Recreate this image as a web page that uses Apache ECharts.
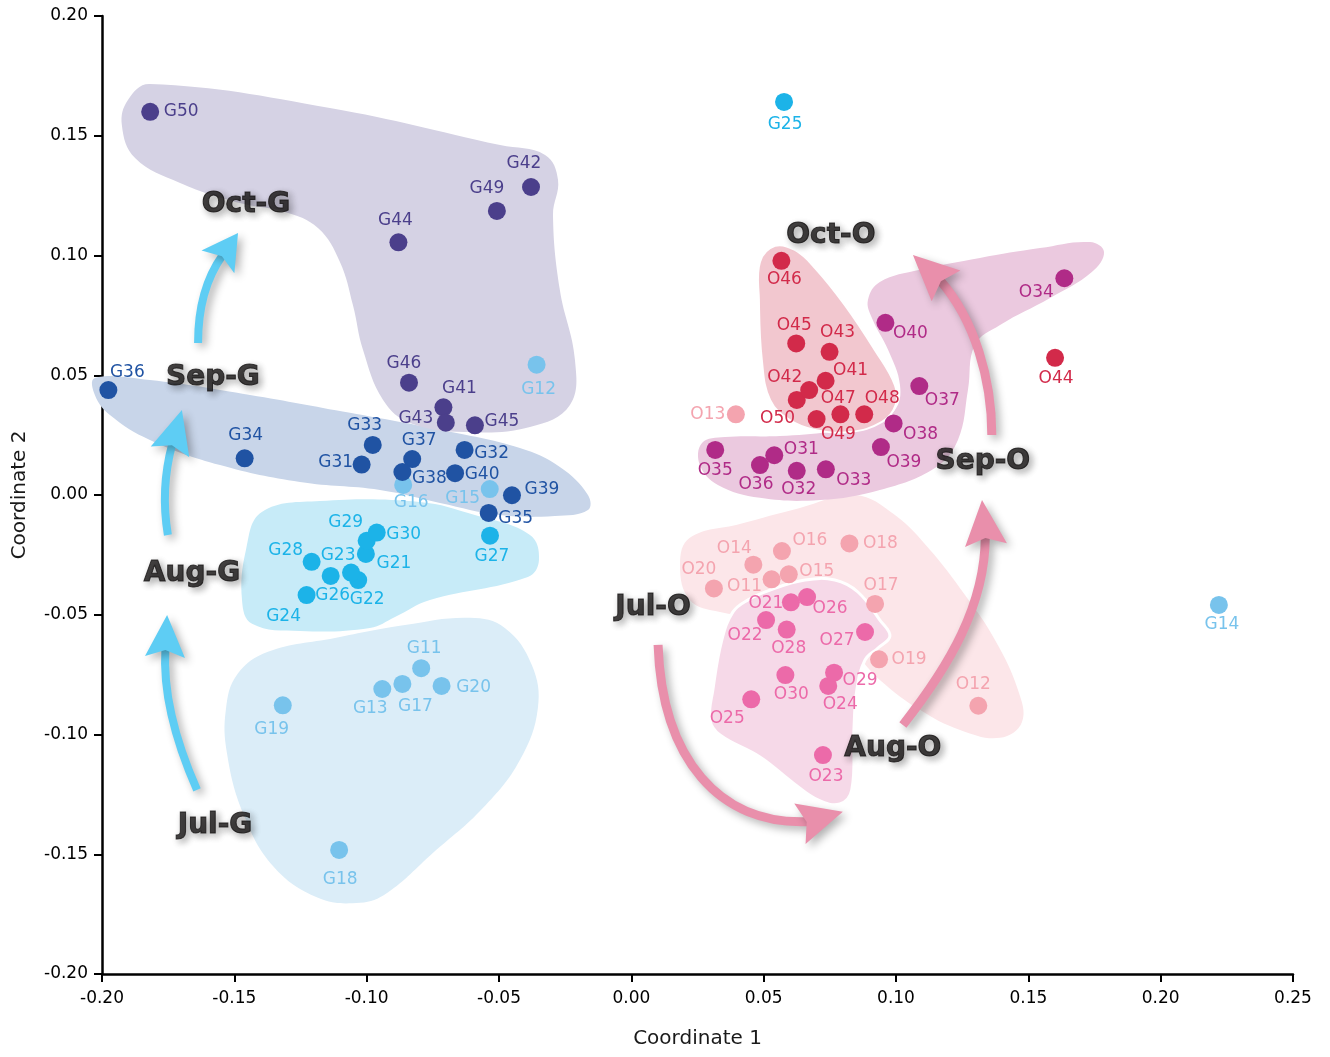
<!DOCTYPE html>
<html>
<head>
<meta charset="utf-8">
<title>PCoA – G and O samples by month</title>
<script src="https://cdn.jsdelivr.net/npm/echarts@6/dist/echarts.min.js"></script>
<style>
  html, body { margin: 0; padding: 0; background: #ffffff; }
  #chart { width: 1330px; height: 1057px; }
</style>
</head>
<body>
<div id="chart"></div>
<script>
// ---- Sample coordinates: [label, coordinate 1, coordinate 2] ----
const julG = [
  ['G11', -0.0794, -0.0723], ['G12', -0.0358, 0.0544], ['G13', -0.0941, -0.0810],
  ['G14', 0.2220, -0.0459], ['G15', -0.0535, 0.0025], ['G16', -0.0862, 0.0042],
  ['G17', -0.0865, -0.0789], ['G18', -0.1104, -0.1482], ['G19', -0.1317, -0.0878],
  ['G20', -0.0717, -0.0797]
];
const augG = [
  ['G21', -0.1003, -0.0246], ['G22', -0.1032, -0.0355], ['G23', -0.1059, -0.0324],
  ['G24', -0.1227, -0.0418], ['G25', 0.0577, 0.1641], ['G26', -0.1136, -0.0338],
  ['G27', -0.0534, -0.0170], ['G28', -0.1208, -0.0279], ['G29', -0.1000, -0.0191],
  ['G30', -0.0962, -0.0157]
];
const sepG = [
  ['G31', -0.1019, 0.0127], ['G32', -0.0630, 0.0188], ['G33', -0.0977, 0.0209],
  ['G34', -0.1461, 0.0153], ['G35', -0.0539, -0.0075], ['G36', -0.1976, 0.0438],
  ['G37', -0.0828, 0.0150], ['G38', -0.0865, 0.0096], ['G39', -0.0451, -0.0001],
  ['G40', -0.0666, 0.0091]
];
const octG = [
  ['G41', -0.0710, 0.0366], ['G42', -0.0379, 0.1286], ['G43', -0.0701, 0.0302],
  ['G44', -0.0880, 0.1055], ['G45', -0.0591, 0.0291], ['G46', -0.0840, 0.0469],
  ['G49', -0.0508, 0.1186], ['G50', -0.1818, 0.1600]
];
const julO = [
  ['O11', 0.0530, -0.0352], ['O12', 0.1311, -0.0880], ['O13', 0.0395, 0.0337],
  ['O14', 0.0461, -0.0291], ['O15', 0.0595, -0.0331], ['O16', 0.0569, -0.0234],
  ['O17', 0.0921, -0.0455], ['O18', 0.0824, -0.0202], ['O19', 0.0936, -0.0686],
  ['O20', 0.0312, -0.0390]
];
const augO = [
  ['O21', 0.0603, -0.0448], ['O22', 0.0509, -0.0522], ['O23', 0.0724, -0.1086],
  ['O24', 0.0744, -0.0797], ['O25', 0.0453, -0.0853], ['O26', 0.0664, -0.0426],
  ['O27', 0.0883, -0.0572], ['O28', 0.0587, -0.0562], ['O29', 0.0766, -0.0742],
  ['O30', 0.0582, -0.0752]
];
const sepO = [
  ['O31', 0.0540, 0.0166], ['O32', 0.0625, 0.0101], ['O33', 0.0735, 0.0107],
  ['O34', 0.1636, 0.0905], ['O35', 0.0317, 0.0188], ['O36', 0.0486, 0.0125],
  ['O37', 0.1088, 0.0455], ['O38', 0.0991, 0.0299], ['O39', 0.0943, 0.0200],
  ['O40', 0.0960, 0.0719]
];
const octO = [
  ['O41', 0.0734, 0.0477], ['O42', 0.0625, 0.0397], ['O43', 0.0749, 0.0598],
  ['O44', 0.1601, 0.0573], ['O45', 0.0623, 0.0633], ['O46', 0.0567, 0.0978],
  ['O47', 0.0672, 0.0438], ['O48', 0.0880, 0.0337], ['O49', 0.0790, 0.0337],
  ['O50', 0.0700, 0.0317]
];

// Axis ticks
const xTicks = [-0.20, -0.15, -0.10, -0.05, 0.00, 0.05, 0.10, 0.15, 0.20, 0.25];
const yTicks = [-0.20, -0.15, -0.10, -0.05, 0.00, 0.05, 0.10, 0.15, 0.20];

// Group captions, placed in data space
const groupTags = [
  ['Oct-G', -0.1456, 0.1211], ['Sep-G', -0.1581, 0.0489],
  ['Aug-G', -0.1660, -0.0330], ['Jul-G', -0.1573, -0.1382],
  ['Oct-O', 0.0754, 0.1082], ['Sep-O', 0.1328, 0.0138],
  ['Aug-O', 0.0988, -0.1060], ['Jul-O', 0.0082, -0.0472]
];

// ---- Styling ----
const pointColor = {
  julG: '#78c3ec', augG: '#1cb3e8', sepG: '#2053a3', octG: '#4b3f8b',
  julO: '#f4a4af', augO: '#ec6aa9', sepO: '#b02b87', octO: '#d22a4a'
};

// label offset (px) of each sample name from its dot centre
const labelAt = {
  G50: [31, 0], G42: [-7, -23], G49: [-10, -22], G44: [-3, -22], G46: [-5, -19],
  G41: [16, -19], G43: [-30, -4], G45: [27, -4], G12: [2, 25], G36: [19, -18],
  G34: [1, -23], G33: [-8, -19], G31: [-26, -2], G37: [7, -18], G38: [27, 7],
  G16: [8, 18], G32: [27, 4], G40: [27, 1], G15: [-27, 10], G39: [30, -6],
  G35: [27, 6], G27: [2, 21], G30: [27, 2], G29: [-21, -18], G21: [28, 10],
  G28: [-26, -11], G23: [-13, -17], G26: [2, 20], G22: [9, 20], G24: [-23, 21],
  G25: [1, 23], G14: [3, 20], G11: [3, -20], G17: [13, 23], G13: [-12, 20],
  G20: [32, 2], G19: [-11, 24], G18: [1, 30],
  O46: [3, 19], O34: [-28, 14], O40: [25, 11], O45: [-2, -18], O43: [8, -19],
  O44: [1, 21], O41: [25, -10], O47: [29, 8], O42: [-12, -22], O50: [-39, -1],
  O49: [-2, 20], O48: [18, -16], O13: [-28, 0], O37: [23, 15], O38: [27, 11],
  O39: [23, 15], O31: [27, -6], O35: [0, 21], O36: [-4, 20], O32: [2, 19],
  O33: [28, 11], O16: [28, -10], O18: [31, 0], O14: [-19, -16], O15: [28, -3],
  O11: [-27, 7], O20: [-15, -19], O17: [6, -18], O21: [-25, 1], O26: [23, 12],
  O22: [-21, 16], O28: [2, 19], O27: [-28, 9], O19: [30, 0], O29: [26, 8],
  O24: [12, 19], O30: [6, 19], O25: [-24, 19], O12: [-5, -21], O23: [3, 21]
};

// Shaded envelopes around each month, outlines in data space (drawn in this order)
const hulls = [
  { fill: '#dbedf8', path: [[-0.1490,-0.0751],[-0.1373,-0.0655],[-0.1120,-0.0597],[-0.0855,-0.0543],[-0.0610,-0.0513],[-0.0478,-0.0555],[-0.0376,-0.0710],[-0.0353,-0.0889],[-0.0421,-0.1106],[-0.0561,-0.1307],[-0.0750,-0.1495],[-0.0923,-0.1662],[-0.1025,-0.1703],[-0.1184,-0.1682],[-0.1354,-0.1549],[-0.1467,-0.1328],[-0.1528,-0.1077],[-0.1532,-0.0897]] },
  { fill: '#c7ebf8', path: [[-0.1396,-0.0071],[-0.1176,-0.0025],[-0.0799,-0.0029],[-0.0591,-0.0084],[-0.0383,-0.0167],[-0.0349,-0.0271],[-0.0391,-0.0342],[-0.0761,-0.0438],[-0.0893,-0.0509],[-0.0988,-0.0555],[-0.1252,-0.0568],[-0.1433,-0.0538],[-0.1471,-0.0438],[-0.1456,-0.0229]] },
  { fill: '#c8d5e9', path: [[-0.2027,0.0489],[-0.1819,0.0480],[-0.1441,0.0418],[-0.1063,0.0343],[-0.0723,0.0272],[-0.0421,0.0196],[-0.0270,0.0117],[-0.0164,0.0000],[-0.0164,-0.0063],[-0.0289,-0.0088],[-0.0496,-0.0084],[-0.0723,-0.0033],[-0.0950,0.0021],[-0.1252,0.0054],[-0.1554,0.0125],[-0.1819,0.0230],[-0.1970,0.0334],[-0.2027,0.0418]] },
  { fill: '#d5d2e4', path: [[-0.1819,0.1716],[-0.1139,0.1616],[-0.0496,0.1461],[-0.0326,0.1420],[-0.0277,0.1315],[-0.0296,0.1169],[-0.0270,0.0856],[-0.0213,0.0564],[-0.0232,0.0376],[-0.0383,0.0284],[-0.0629,0.0263],[-0.0836,0.0301],[-0.0938,0.0397],[-0.1014,0.0606],[-0.1052,0.0793],[-0.1101,0.0973],[-0.1184,0.1115],[-0.1309,0.1182],[-0.1479,0.1219],[-0.1705,0.1303],[-0.1875,0.1407],[-0.1925,0.1545],[-0.1902,0.1649]] },
  { fill: '#fce6e9', path: [[0.0221,-0.0179],[0.0410,-0.0121],[0.0637,-0.0054],[0.0845,0.0000],[0.0996,-0.0084],[0.1128,-0.0229],[0.1260,-0.0417],[0.1374,-0.0605],[0.1461,-0.0814],[0.1476,-0.0948],[0.1393,-0.1014],[0.1242,-0.0981],[0.1090,-0.0897],[0.0939,-0.0772],[0.0788,-0.0605],[0.0561,-0.0522],[0.0335,-0.0488],[0.0221,-0.0438],[0.0184,-0.0292]] },
  { fill: '#f6d9e8', stroke: '#ffffff', lineWidth: 3, path: [[0.0524,-0.0397],[0.0656,-0.0355],[0.0769,-0.0355],[0.0856,-0.0405],[0.0939,-0.0522],[0.0977,-0.0589],[0.0932,-0.0639],[0.0883,-0.0689],[0.0852,-0.0814],[0.0841,-0.0981],[0.0833,-0.1231],[0.0788,-0.1290],[0.0705,-0.1273],[0.0611,-0.1202],[0.0486,-0.1094],[0.0335,-0.1002],[0.0297,-0.0939],[0.0308,-0.0814],[0.0342,-0.0605],[0.0384,-0.0488],[0.0441,-0.0438]] },
  { fill: '#ebc9df', path: [[0.0894,0.0814],[0.0939,0.0889],[0.1090,0.0940],[0.1317,0.0990],[0.1544,0.1031],[0.1733,0.1056],[0.1786,0.1015],[0.1740,0.0931],[0.1582,0.0823],[0.1393,0.0710],[0.1298,0.0626],[0.1272,0.0439],[0.1234,0.0230],[0.1147,0.0113],[0.0939,0.0021],[0.0713,-0.0021],[0.0486,-0.0012],[0.0327,0.0042],[0.0259,0.0125],[0.0267,0.0217],[0.0354,0.0242],[0.0561,0.0246],[0.0750,0.0263],[0.0902,0.0292],[0.0996,0.0355],[0.1015,0.0459],[0.0970,0.0606],[0.0909,0.0739]] },
  { fill: '#f2c7cf', stroke: '#ffffff', lineWidth: 2, path: [[0.0543,0.1040],[0.0618,0.1023],[0.0694,0.0948],[0.0807,0.0793],[0.0920,0.0606],[0.0996,0.0459],[0.0999,0.0376],[0.0947,0.0305],[0.0826,0.0263],[0.0694,0.0272],[0.0599,0.0313],[0.0524,0.0397],[0.0493,0.0564],[0.0482,0.0814],[0.0486,0.0973]] }
];

// Month-to-month arrows: cubic curve [tail, control 1, control 2, head base], then tip (data space)
const arrows = [
  { kind: 'G', curve: [[-0.1641,-0.1231],[-0.1724,-0.1023],[-0.1770,-0.0814],[-0.1762,-0.0676]], tip: [-0.1754,-0.0501] },
  { kind: 'G', curve: [[-0.1751,-0.0167],[-0.1770,-0.0042],[-0.1766,0.0084],[-0.1743,0.0180]], tip: [-0.1698,0.0355] },
  { kind: 'G', curve: [[-0.1637,0.0635],[-0.1637,0.0773],[-0.1611,0.0898],[-0.1562,0.0973]], tip: [-0.1486,0.1094] },
  { kind: 'O', curve: [[0.0101,-0.0626],[0.0116,-0.1106],[0.0335,-0.1378],[0.0637,-0.1373]], tip: [0.0799,-0.1323] },
  { kind: 'O', curve: [[0.1026,-0.0960],[0.1204,-0.0710],[0.1336,-0.0459],[0.1340,-0.0209]], tip: [0.1325,-0.0021] },
  { kind: 'O', curve: [[0.1362,0.0251],[0.1362,0.0480],[0.1298,0.0731],[0.1189,0.0873]], tip: [0.1064,0.1002] }
];
const arrowStyle = {
  G: { color: '#5ecdf4', width: 8, head: 20 },
  O: { color: '#e98fab', width: 9, head: 21 }
};

const LABEL_FONT = 'DejaVu Sans';

function pointSeries(key, rows) {
  return {
    type: 'scatter',
    name: key,
    z: 4,
    symbol: 'circle',
    symbolSize: 18,
    itemStyle: { color: pointColor[key], opacity: 1 },
    label: {
      show: true,
      position: 'inside',
      formatter: '{b}',
      color: pointColor[key],
      textBorderWidth: 0,
      fontFamily: LABEL_FONT,
      fontSize: 17
    },
    emphasis: { disabled: true },
    data: rows.map(r => ({
      name: r[0],
      value: [r[1], r[2]],
      label: { offset: labelAt[r[0]] || [0, 20] }
    }))
  };
}

const chart = echarts.init(document.getElementById('chart'), null, { renderer: 'canvas' });

const option = {
  animation: false,
  backgroundColor: '#ffffff',
  grid: { left: 102, right: 37, top: 16, bottom: 83 },
  xAxis: {
    type: 'value',
    min: xTicks[0], max: xTicks[xTicks.length - 1], interval: 0.05,
    name: 'Coordinate 1',
    nameLocation: 'middle',
    nameGap: 55,
    nameTextStyle: { fontFamily: LABEL_FONT, fontSize: 20, color: '#1a1a1a' },
    axisLine: { onZero: false, lineStyle: { color: '#000', width: 2.5 } },
    axisTick: { show: true, length: 8, inside: false, lineStyle: { color: '#000', width: 2 } },
    axisLabel: {
      margin: 16, color: '#000', fontFamily: LABEL_FONT, fontSize: 17,
      formatter: v => v.toFixed(2)
    },
    splitLine: { show: false }
  },
  yAxis: {
    type: 'value',
    min: yTicks[0], max: yTicks[yTicks.length - 1], interval: 0.05,
    name: 'Coordinate 2',
    nameLocation: 'middle',
    nameGap: 72,
    nameTextStyle: { fontFamily: LABEL_FONT, fontSize: 20, color: '#1a1a1a' },
    axisLine: { onZero: false, lineStyle: { color: '#000', width: 2.5 } },
    axisTick: { show: true, length: 8, inside: false, lineStyle: { color: '#000', width: 2 } },
    axisLabel: {
      margin: 14, color: '#000', fontFamily: LABEL_FONT, fontSize: 17,
      formatter: v => v.toFixed(2)
    },
    splitLine: { show: false }
  },
  series: [
    {
      type: 'custom',
      name: 'envelopes',
      z: 1,
      clip: false,
      silent: true,
      data: hulls.map(h => h.path[0]),
      renderItem: (params, api) => {
        const h = hulls[params.dataIndex];
        return {
          type: 'polygon',
          shape: { points: h.path.map(p => api.coord(p)), smooth: 0.4 },
          style: {
            fill: h.fill,
            stroke: h.stroke || null,
            lineWidth: h.lineWidth || 0
          }
        };
      }
    },
    {
      type: 'custom',
      name: 'arrows',
      z: 2,
      clip: false,
      silent: true,
      data: arrows.map(a => a.tip),
      renderItem: (params, api) => {
        const a = arrows[params.dataIndex];
        const st = arrowStyle[a.kind];
        const [P0, C1, C2, B] = a.curve.map(p => api.coord(p));
        const T = api.coord(a.tip);
        const dx = T[0] - B[0], dy = T[1] - B[1];
        const L = Math.hypot(dx, dy);
        const ux = dx / L, uy = dy / L, nx = -uy, ny = ux;
        const w = st.head;
        const shadow = { shadowBlur: 8, shadowColor: 'rgba(0,0,0,0.3)', shadowOffsetX: 4, shadowOffsetY: 4 };
        return {
          type: 'group',
          children: [
            {
              type: 'bezierCurve',
              shape: {
                x1: P0[0], y1: P0[1],
                cpx1: C1[0], cpy1: C1[1],
                cpx2: C2[0], cpy2: C2[1],
                x2: B[0] + ux * 8, y2: B[1] + uy * 8
              },
              style: Object.assign({ stroke: st.color, lineWidth: st.width, fill: null, lineCap: 'butt' }, shadow)
            },
            {
              type: 'polygon',
              shape: { points: [
                T,
                [B[0] + nx * w, B[1] + ny * w],
                [B[0] + ux * 7, B[1] + uy * 7],
                [B[0] - nx * w, B[1] - ny * w]
              ] },
              style: Object.assign({ fill: st.color }, shadow)
            }
          ]
        };
      }
    },
    pointSeries('julG', julG),
    pointSeries('augG', augG),
    pointSeries('sepG', sepG),
    pointSeries('octG', octG),
    pointSeries('julO', julO),
    pointSeries('augO', augO),
    pointSeries('sepO', sepO),
    pointSeries('octO', octO),
    {
      type: 'scatter',
      name: 'months',
      z: 5,
      symbolSize: 0,
      silent: true,
      itemStyle: { color: '#000' },
      label: {
        show: true,
        position: 'inside',
        formatter: '{b}',
        color: '#161414',
        textBorderColor: '#161414',
        textBorderWidth: 1,
        fontFamily: LABEL_FONT,
        fontWeight: 'bold',
        fontSize: 28,
        textShadowColor: 'rgba(0,0,0,0.4)',
        textShadowBlur: 7,
        textShadowOffsetX: 3,
        textShadowOffsetY: 3
      },
      data: groupTags.map(t => ({ name: t[0], value: [t[1], t[2]] }))
    }
  ]
};

chart.setOption(option);
</script>
</body>
</html>
